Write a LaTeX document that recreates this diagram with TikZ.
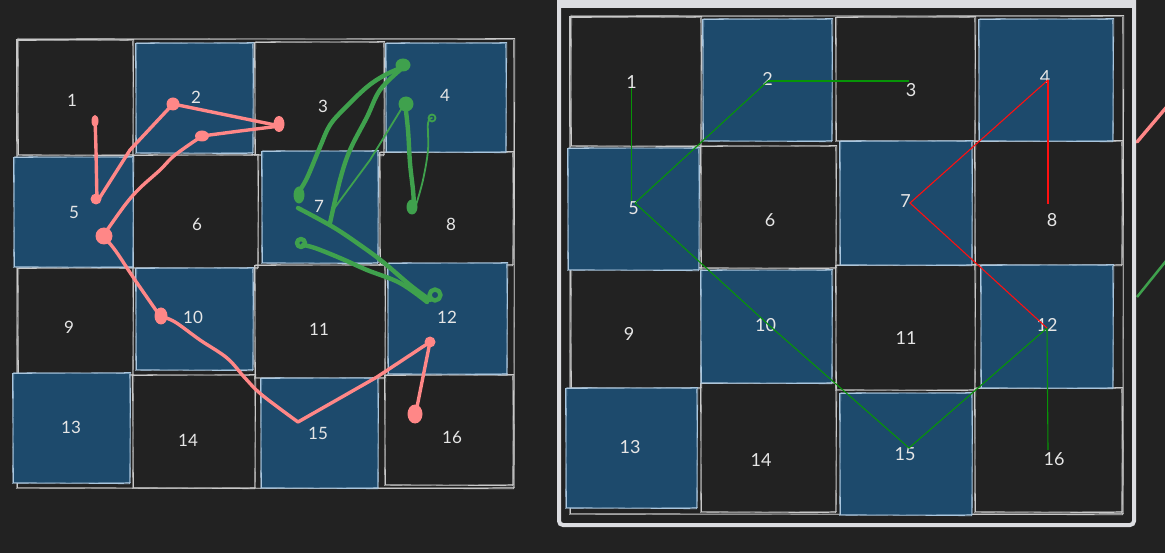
\documentclass[tikz,border=0pt]{standalone}
\usepackage{fontspec}
\setmainfont{Lato}
\definecolor{bg}{HTML}{222222}
\definecolor{cellgray}{HTML}{C8C8C8}
\definecolor{bluefill}{HTML}{1D4A6C}
\definecolor{blueedge}{HTML}{A9C6DE}
\definecolor{pinkc}{HTML}{FF8787}
\definecolor{greenc}{HTML}{3FA14D}
\definecolor{panelc}{HTML}{DCDDE1}
\definecolor{gline}{HTML}{079407}
\definecolor{rline}{HTML}{FF1010}
\definecolor{txt}{HTML}{E6E6E6}
\newcommand{\skrect}[6]{%
  \fill[#1] (#3,#4) rectangle (#5,#6);
  \draw[#2, line width=0.8] (#3-0.6,#4+0.5) -- (#5+0.8,#4-0.4) -- (#5-0.3,#6+0.7) -- (#3+0.5,#6-0.3) -- cycle;
  \draw[#2, line width=0.6, opacity=0.75] (#3+0.8,#4-0.7) -- (#5-0.5,#4+0.6) -- (#5+0.6,#6-0.5) -- (#3-0.7,#6+0.6) -- cycle;}
\tikzset{
  lblL/.style={text=txt, font=\fontsize{17}{19}\selectfont, inner sep=0pt},
  lblR/.style={text=txt, font=\fontsize{18}{20}\selectfont, inner sep=0pt},
  pinkpath/.style={draw=pinkc, line width=3.4, line cap=round, line join=round},
  greenpath/.style={draw=greenc, line width=4.4, line cap=round, line join=round},
  greenthin/.style={draw=greenc, line width=1.8, line cap=round, line join=round},
  gconn/.style={draw=gline, line width=1.1},
  rconn/.style={draw=rline, line width=1.1},
}
\begin{document}
\begin{tikzpicture}[x=1pt,y=-1pt]
\fill[bg] (0,0) rectangle (1165,553);
\useasboundingbox (0,0) rectangle (1165,553);

% ---------------- left grid ----------------
\skrect{fill=none}{cellgray}{17}{39}{514}{488}
\skrect{fill=none}{cellgray}{18}{40}{133}{155}
\skrect{fill=none}{cellgray}{255}{42}{384}{155}
\skrect{fill=none}{cellgray}{133}{155}{258}{268}
\skrect{fill=none}{cellgray}{380}{152}{513}{265}
\skrect{fill=none}{cellgray}{18}{268}{133}{375}
\skrect{fill=none}{cellgray}{255}{265}{385}{378}
\skrect{fill=none}{cellgray}{133}{375}{255}{488}
\skrect{fill=none}{cellgray}{385}{375}{513}{485}
\skrect{bluefill}{blueedge}{136}{43}{253}{153}
\skrect{bluefill}{blueedge}{386}{43}{506}{152}
\skrect{bluefill}{blueedge}{14}{157}{133}{267}
\skrect{bluefill}{blueedge}{262}{151}{378}{263}
\skrect{bluefill}{blueedge}{136}{268}{253}{370}
\skrect{bluefill}{blueedge}{388}{263}{507}{374}
\skrect{bluefill}{blueedge}{13}{373}{130}{483}
\skrect{bluefill}{blueedge}{261}{378}{378}{488}

\node[lblL] (L1) at (72,100) {1};
\node[lblL] (L2) at (196,97) {2};
\node[lblL] (L3) at (323,106) {3};
\node[lblL] (L4) at (445,95) {4};
\node[lblL] (L5) at (74,212) {5};
\node[lblL] (L6) at (197,224) {6};
\node[lblL] (L7) at (319,206) {7};
\node[lblL] (L8) at (451,224) {8};
\node[lblL] (L9) at (69,327) {9};
\node[lblL] (L10) at (193,317) {10};
\node[lblL] (L11) at (319,329) {11};
\node[lblL] (L12) at (447,317) {12};
\node[lblL] (L13) at (71,427) {13};
\node[lblL] (L14) at (188,440) {14};
\node[lblL] (L15) at (318,433) {15};
\node[lblL] (L16) at (452,437) {16};

% pink freehand path
\draw[pinkpath] (95,117) -- (96,150) -- (97,202);
\draw[pinkpath] (97,202) -- (130,150) -- (173,104);
\draw[pinkpath] (173,104) -- (280,126);
\draw[pinkpath] (280,126) -- (240,131) -- (202,136);
\draw[pinkpath] plot[smooth, tension=0.6] coordinates {(202,136) (175,155) (160,170) (140,188) (125,205) (103,236)};
\draw[pinkpath] plot[smooth, tension=0.6] coordinates {(103,236) (115,250) (135,280) (160,316)};
\draw[pinkpath] plot[smooth, tension=0.6] coordinates {(160,316) (175,322) (200,340) (227,358) (245,378) (262,395) (298,422)};
\draw[pinkpath] (298,422) -- (377,377) -- (430,342);
\draw[pinkpath] (430,342) -- (416,412);
\fill[pinkc] (95,121) ellipse (3.5 and 6);
\fill[pinkc] (96,199) circle (5.5);
\fill[pinkc] (173,104) circle (6.5);
\fill[pinkc] (279,124) ellipse (5.5 and 8);
\fill[pinkc] (202,136) ellipse (7 and 5.5);
\fill[pinkc] (104,236) circle (8.5);
\fill[pinkc] (161,316) ellipse (6.5 and 8.5);
\fill[pinkc] (430,342) circle (5.5);
\fill[pinkc] (415,414) ellipse (7.5 and 9.5);

% green freehand path
\fill[greenc] (403,65) ellipse (7.5 and 6.5);
\draw[greenpath] plot[smooth, tension=0.6] coordinates {(403,67) (385,75) (367,87) (345,108) (330,125) (320,147) (307,178) (298,193)};
\fill[greenc] (299,195) ellipse (5.5 and 8.5);
\draw[greenpath] plot[smooth, tension=0.6] coordinates {(400,70) (380,90) (367,117) (350,150) (340,180) (330,223)};
\draw[greenthin] (405,103) -- (370,160) -- (333,210);
\fill[greenc] (406,104) circle (7.5);
\draw[greenpath] plot[smooth, tension=0.6] coordinates {(405,103) (408,130) (410,163) (413,190) (414,205)};
\fill[greenc] (412,207) ellipse (5.5 and 7.5);
\draw[greenthin] plot[smooth, tension=0.6] coordinates {(416,205) (423,180) (428,150) (428,123) (432,118)};
\draw[greenthin] (432,118) circle (3.5);
\draw[greenpath] plot[smooth, tension=0.6] coordinates {(298,208) (333,227) (360,245) (383,262) (410,285) (430,300)};
\draw[greenpath] (435,295) circle (5.5);
\draw[greenpath] plot[smooth, tension=0.6] coordinates {(427,302) (400,283) (367,270) (340,258) (315,248) (303,245)};
\draw[greenpath] (301,243) circle (4);

% lines cut at the right edge
\draw[pinkpath] (1137,142) -- (1170,103);
\draw[draw=greenc, line width=2.5] (1137,297) -- (1170,256);

% ---------------- right panel ----------------
\fill[panelc] (557,-5) rectangle (1136,8);
\draw[panelc, line width=4, rounded corners=4] (559,-10) rectangle (1134,525);

\skrect{fill=none}{cellgray}{570}{16}{1123}{514}
\skrect{fill=none}{cellgray}{571}{17}{701}{146}
\skrect{fill=none}{cellgray}{836}{17}{975}{141}
\skrect{fill=none}{cellgray}{701}{146}{836}{268}
\skrect{fill=none}{cellgray}{975}{141}{1122}{265}
\skrect{fill=none}{cellgray}{571}{268}{701}{388}
\skrect{fill=none}{cellgray}{836}{265}{975}{390}
\skrect{fill=none}{cellgray}{701}{383}{836}{512}
\skrect{fill=none}{cellgray}{975}{388}{1122}{512}
\skrect{bluefill}{blueedge}{703}{19}{832}{141}
\skrect{bluefill}{blueedge}{979}{19}{1113}{141}
\skrect{bluefill}{blueedge}{568}{148}{699}{270}
\skrect{bluefill}{blueedge}{840}{141}{972}{265}
\skrect{bluefill}{blueedge}{701}{270}{832}{383}
\skrect{bluefill}{blueedge}{981}{265}{1113}{388}
\skrect{bluefill}{blueedge}{566}{388}{697}{508}
\skrect{bluefill}{blueedge}{840}{393}{972}{515}

\node[lblR] (R1) at (631.5,82) {1};
\node[lblR] (R2) at (767.5,79) {2};
\node[lblR] (R3) at (911,90) {3};
\node[lblR] (R4) at (1045,77) {4};
\node[lblR] (R5) at (633.5,208) {5};
\node[lblR] (R6) at (770,220) {6};
\node[lblR] (R7) at (905.5,201) {7};
\node[lblR] (R8) at (1052,220) {8};
\node[lblR] (R9) at (629,334) {9};
\node[lblR] (R10) at (765.5,325) {10};
\node[lblR] (R11) at (906,338) {11};
\node[lblR] (R12) at (1047,325) {12};
\node[lblR] (R13) at (630,447) {13};
\node[lblR] (R14) at (761,460) {14};
\node[lblR] (R15) at (905,454) {15};
\node[lblR] (R16) at (1054,459) {16};

\coordinate (v1) at (631.5,88);
\coordinate (v1b) at (631.5,201);
\coordinate (v2) at (768,81);
\coordinate (v3) at (909,81);
\coordinate (v5) at (635,203);
\coordinate (v10) at (771,327);
\coordinate (v15) at (909,448);
\coordinate (v12) at (1047,328);
\coordinate (v16) at (1048,450);
\coordinate (v4) at (1048,80);
\coordinate (v8) at (1048,204);
\coordinate (v7) at (910,203);

\draw[gconn] (v1) -- (v1b);
\draw[gconn] (v2) -- (v3);
\draw[gconn] (v5) -- (v2);
\draw[gconn] (v5) -- (v10) -- (v15) -- (v12) -- (v16);
\draw[rconn] (v4) -- (v8);
\draw[rconn] (v4) -- (v7) -- (v12);
\end{tikzpicture}
\end{document}
